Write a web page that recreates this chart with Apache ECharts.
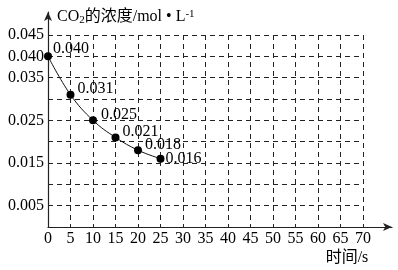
<!DOCTYPE html>
<html><head><meta charset="utf-8">
<script src="https://cdn.jsdelivr.net/npm/echarts@6/dist/echarts.min.js"></script>
<style>html,body{margin:0;padding:0;background:#fff}#c{width:398px;height:270px}</style>
</head><body><div id="c"></div>
<script>
const times = [0, 5, 10, 15, 20, 25];
const co2 = [0.040, 0.031, 0.025, 0.021, 0.018, 0.016];
const yLabelsShown = ['0.005', '0.015', '0.025', '0.035', '0.040', '0.045'];
const xName = '时间/s';
const yName = 'CO{sub|2}的浓度/mol • L{sup|-1}';

const FONT = "'Liberation Serif','Noto Sans CJK SC',serif";
const chart = echarts.init(document.getElementById('c'), null, {renderer: 'canvas'});
const labelOffsets = [[-4, -8], [-2, -6], [-1, -6], [-2, -6], [-2, -5], [-4, 0]];
const dataPts = times.map((t, i) => ({
  value: [t, co2[i]],
  label: {offset: labelOffsets[i]}
}));
chart.setOption({
  animation: false,
  grid: [
    {left: 48, top: 35, right: 35, bottom: 43},
    {left: 48, top: 12, right: 6, bottom: 43}
  ],
  xAxis: [
    {gridIndex: 0, type: 'value', min: 0, max: 70, interval: 5,
     axisLine: {show: false}, axisTick: {show: false},
     axisLabel: {color: '#000', fontFamily: FONT, fontSize: 16, margin: 4},
     splitLine: {show: true, showMinLine: false, showMaxLine: true,
       lineStyle: {color: '#222', width: 1, type: [5, 4]}},
     name: xName, nameLocation: 'end', nameGap: -16,
     nameTextStyle: {color: '#000', fontFamily: FONT, fontSize: 16, align: 'center', verticalAlign: 'top', padding: [23, 0, 0, 0]}
    },
    {gridIndex: 1, type: 'value', min: 0, max: 1,
     axisLine: {show: true, symbol: ['none', 'arrow'], symbolSize: [6, 9], lineStyle: {color: '#222', width: 1.2}},
     axisTick: {show: false}, axisLabel: {show: false}, splitLine: {show: false}}
  ],
  yAxis: [
    {gridIndex: 0, type: 'value', min: 0, max: 0.045, interval: 0.005,
     axisLine: {show: false}, axisTick: {show: false},
     axisLabel: {color: '#000', fontFamily: FONT, fontSize: 16, margin: 4,
       formatter: v => { const s = v.toFixed(3); return yLabelsShown.includes(s) ? s : ''; }},
     splitLine: {show: true, showMinLine: false, showMaxLine: true,
       lineStyle: {color: '#222', width: 1, type: [5, 4]}}
    },
    {gridIndex: 1, type: 'value', min: 0, max: 1,
     axisLine: {show: true, symbol: ['none', 'arrow'], symbolSize: [6, 9], lineStyle: {color: '#222', width: 1.2}},
     axisTick: {show: false}, axisLabel: {show: false}, splitLine: {show: false},
     name: yName, nameLocation: 'end', nameGap: -5,
     nameTextStyle: {color: '#000', fontFamily: FONT, fontSize: 16, align: 'left', verticalAlign: 'middle', padding: [0, 0, 0, 9],
       rich: {sub: {fontFamily: FONT, fontSize: 11, verticalAlign: 'bottom', padding: [6, 0, 0, 0], color: '#000'},
              sup: {fontFamily: FONT, fontSize: 11, verticalAlign: 'top', padding: [0, 0, 6, 0], color: '#000'}}}
    }
  ],
  series: [{
    type: 'line', xAxisIndex: 0, yAxisIndex: 0,
    data: dataPts, smooth: 0.4,
    symbol: 'circle', symbolSize: 8,
    itemStyle: {color: '#000'},
    lineStyle: {color: '#111', width: 1},
    label: {show: true, position: 'right', color: '#000', fontFamily: FONT, fontSize: 16,
      formatter: p => p.value[1].toFixed(3)}
  }]
});
</script></body></html>
